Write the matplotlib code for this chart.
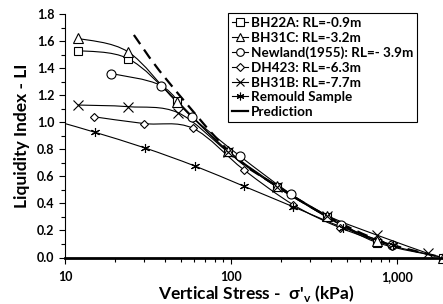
"""
  Liquidity index vs vertical stress (log scale) for several boreholes
"""
import numpy as np
import matplotlib
matplotlib.use('Agg')
import matplotlib.pyplot as plt
from matplotlib.path import Path
from matplotlib.patches import PathPatch
from matplotlib.lines import Line2D

plt.rcParams['font.family'] = ['Lato', 'DejaVu Sans']
plt.rcParams['font.weight'] = 'bold'

# values (stress kPa, liquidity index)
bh22a_x = [12, 24, 47, 96, 190, 380, 760, 1900]
bh22a_y = [1.53, 1.47, 1.16, 0.78, 0.52, 0.30, 0.11, 0.0]
bh31c_x = [12, 24, 47, 96, 190, 380, 760, 1900]
bh31c_y = [1.62, 1.52, 1.15, 0.79, 0.53, 0.31, 0.12, 0.0]
newland_x = [19, 38, 58, 113, 229, 460, 930]
newland_y = [1.36, 1.27, 1.04, 0.75, 0.47, 0.24, 0.09]
dh423_x = [15, 30, 59, 119, 237, 454, 930]
dh423_y = [1.04, 0.99, 0.955, 0.65, 0.39, 0.22, 0.085]
bh31b_x = [12, 24, 48, 96, 190, 380, 755, 1530]
bh31b_y = [1.127, 1.115, 1.07, 0.78, 0.52, 0.31, 0.166, 0.031]
remould_x = [10, 15.2, 30.3, 60.7, 119, 237, 475, 950]
remould_y = [0.99, 0.925, 0.81, 0.676, 0.528, 0.375, 0.22, 0.09]
pred_x = [26, 40, 100, 200, 400, 800, 1600, 1950]
pred_y = [1.645, 1.33, 0.77, 0.51, 0.29, 0.12, 0.02, 0.0]

labels = ['BH22A: RL=-0.9m', 'BH31C: RL=-3.2m', 'Newland(1955): RL=- 3.9m',
          'DH423: RL=-6.3m', 'BH31B: RL=-7.7m', 'Remould Sample', 'Prediction']
ASTER = (6, 2, 0)


def smooth_path(xs, ys):
    # excel-like smoothed line, bezier in (log x, y)
    u = np.log10(xs)
    p = np.column_stack([u, ys])
    n = len(p)
    verts = [p[0]]
    codes = [Path.MOVETO]
    for i in range(n - 1):
        p0 = p[max(i - 1, 0)]
        p3 = p[min(i + 2, n - 1)]
        c1 = p[i] + (p[i + 1] - p0) / 6.0
        c2 = p[i + 1] - (p3 - p[i]) / 6.0
        verts += [c1, c2, p[i + 1]]
        codes += [Path.CURVE4] * 3
    verts = np.array(verts)
    verts[:, 0] = 10 ** verts[:, 0]
    return Path(verts, codes)


fig = plt.figure(figsize=(4.43, 3.04), dpi=100)
ax = fig.add_axes([65 / 443, 1 - 257.5 / 304, 382 / 443, 243.5 / 304])
ax.set_xscale('log')
ax.set_xlim(10, 2000)
ax.set_ylim(0, 1.8)

series = [
    (bh22a_x, bh22a_y, 's', None),
    (bh31c_x, bh31c_y, '^', None),
    (newland_x, newland_y, 'o', None),
    (dh423_x, dh423_y, 'D', None),
    (bh31b_x, bh31b_y, 'x', None),
    (remould_x, remould_y, ASTER, slice(1, None)),
]
msize = {'s': 6, '^': 6.5, 'o': 6.5, 'D': 4.5, 'x': 6.5, ASTER: 6.5}
handles = []
for xs, ys, m, every in series:
    ax.add_patch(PathPatch(smooth_path(xs, ys), fill=False, edgecolor='black', lw=0.8))
    ax.plot(xs, ys, linestyle='none', marker=m, ms=msize[m], mfc='white', mec='black',
            mew=0.8, markevery=every, clip_on=False)
    handles.append(Line2D([], [], color='black', lw=0.8, marker=m, ms=msize[m] * 0.85,
                          mfc='white', mec='black', mew=0.8))

ax.add_patch(PathPatch(smooth_path(pred_x, pred_y), fill=False, edgecolor='black',
                       lw=1.6, linestyle=(0, (5, 3))))
handles.append(Line2D([], [], color='black', lw=1.6))

for s in ['top', 'right']:
    ax.spines[s].set_visible(False)
ax.spines['bottom'].set_linewidth(2)
ax.spines['left'].set_linewidth(0.8)

ax.set_yticks(np.arange(0, 1.81, 0.2))
ax.set_yticks(np.arange(0.1, 1.8, 0.2), minor=True)
ax.yaxis.set_major_formatter(plt.FuncFormatter(lambda v, p: f'{v:.1f}'))
ax.set_xticks([10, 100, 1000])
ax.set_xticklabels(['10', '100', '1,000'])
ax.tick_params(axis='both', which='both', direction='out', labelsize=9, width=0.8)
ax.tick_params(axis='both', which='major', length=4)
ax.tick_params(axis='both', which='minor', length=3)
ax.tick_params(axis='x', pad=6)

ax.set_xlabel("Vertical Stress -  σ'$_\\mathregular{v}$ (kPa)", fontsize=12.5,
              fontweight='bold', labelpad=0)
ax.set_ylabel('Liquidity Index - LI', fontsize=12.5, fontweight='bold', labelpad=5)

leg = ax.legend(handles, labels, loc='upper left', bbox_to_anchor=(228 / 443, 1 - 13 / 304),
                bbox_transform=fig.transFigure, borderaxespad=0, fontsize=9.7,
                handlelength=1.2, handletextpad=0.2, labelspacing=0.2,
                borderpad=0.3, fancybox=False, framealpha=1)
leg.get_frame().set_edgecolor('black')
leg.get_frame().set_linewidth(0.8)

fig.savefig('out.png', dpi=100)
